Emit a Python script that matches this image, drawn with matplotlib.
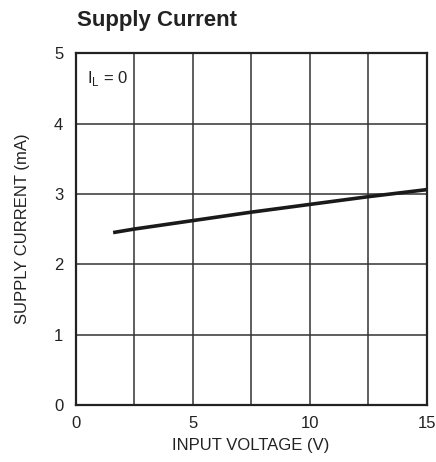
import matplotlib
matplotlib.use("Agg")
import matplotlib.pyplot as plt

plt.rcParams['font.family'] = ['Liberation Sans Narrow', 'Liberation Sans', 'DejaVu Sans']

# input voltage (V) vs supply current (mA)
vin = [1.6, 2.5, 5.0, 7.5, 10.0, 12.5, 15.0]
isupply = [2.45, 2.50, 2.62, 2.74, 2.85, 2.96, 3.06]

xticks = [0, 5, 10, 15]
yticks = [0, 1, 2, 3, 4, 5]

fig = plt.figure(figsize=(4.36, 4.62), dpi=100)
ax = fig.add_axes([0.1736, 0.1234, 0.805, 0.7616])

ax.plot(vin, isupply, color='#1a1a1a', lw=2.6, solid_capstyle='butt')

ax.set_xlim(0, 15)
ax.set_ylim(0, 5)
ax.set_xticks(xticks)
ax.set_yticks(yticks)
ax.set_xticks([2.5, 7.5, 12.5], minor=True)
ax.grid(True, which='both', color='#333333', lw=1.1)
ax.tick_params(which='both', length=0, labelsize=12, colors='#222222')
ax.tick_params(axis='y', pad=9)
ax.tick_params(axis='x', pad=8)
for s in ax.spines.values():
    s.set_linewidth(1.6)
    s.set_color('#222222')

ax.set_xlabel('INPUT VOLTAGE (V)', fontsize=12, color='#222222', labelpad=5)
ax.set_ylabel('SUPPLY CURRENT (mA)', fontsize=12, color='#222222', labelpad=17)

ax.text(0.5, 4.78, r'I$_\mathregular{L}$ = 0', fontsize=12, va='top', color='#222222')
fig.text(0.177, 0.955, 'Supply Current', fontsize=16, fontweight='bold', va='center', color='#222222')

fig.savefig('out.png', dpi=100)
